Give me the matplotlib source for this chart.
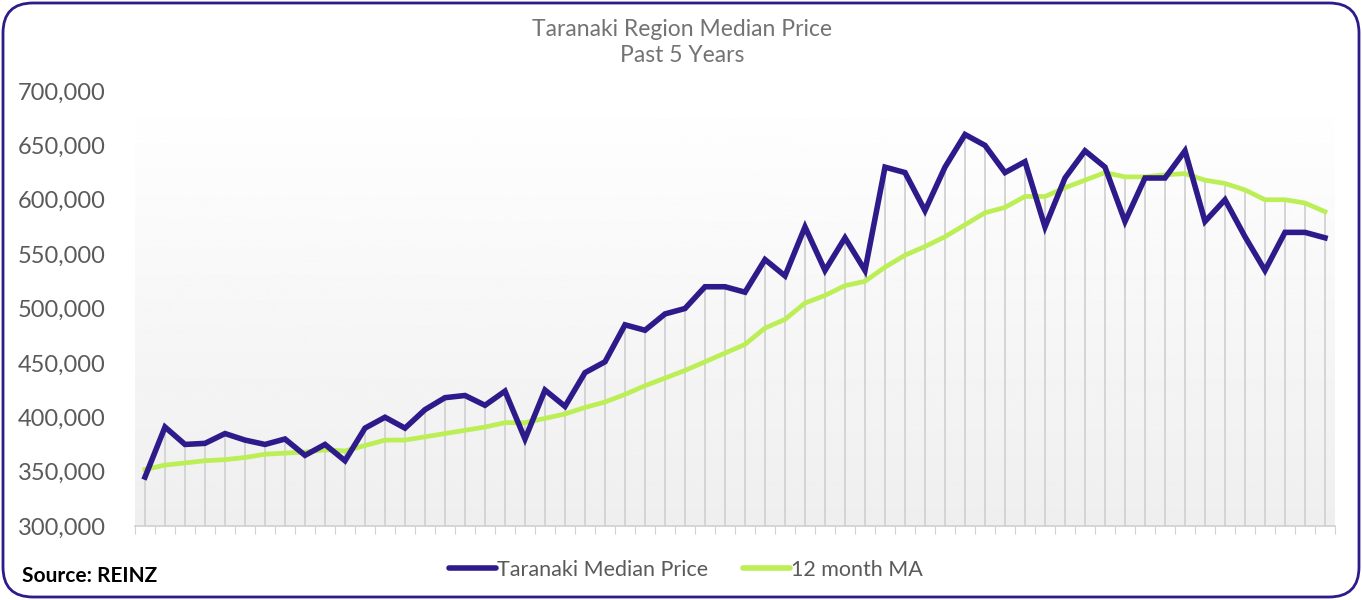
import numpy as np
import matplotlib.pyplot as plt
from matplotlib.patches import FancyBboxPatch
from matplotlib.ticker import FuncFormatter

# monthly values, past 5 years (60 months)
median_price = [345000, 391000, 375000, 376000, 385000, 379000, 375000, 380000, 365000, 375000,
                360000, 390000, 400000, 390000, 407000, 418000, 420000, 411000, 424000, 380000,
                425000, 410000, 441000, 451000, 485000, 480000, 495000, 500000, 520000, 520000,
                515000, 545000, 530000, 575000, 535000, 565000, 535000, 630000, 625000, 590000,
                630000, 660000, 650000, 625000, 635000, 575000, 620000, 645000, 630000, 580000,
                620000, 620000, 645000, 580000, 600000, 566000, 535000, 570000, 570000, 565000]
ma_12 = [352000, 356000, 358000, 360000, 361000, 363000, 366000, 367000, 368000, 370000,
         369000, 374000, 379000, 379000, 382000, 385000, 388000, 391000, 395000, 395000,
         399000, 403000, 409000, 414000, 421000, 429000, 436000, 443000, 451000, 459000,
         467000, 482000, 490000, 505000, 512000, 521000, 525000, 538000, 549000, 557000,
         566000, 577000, 588000, 593000, 603000, 603000, 611000, 618000, 625000, 621000,
         621000, 623000, 624000, 618000, 615000, 609000, 600000, 600000, 597000, 589000]

purple = '#2e1a8a'
green = '#bcee55'
grey_text = '#5a5a5a'

plt.rcParams['font.family'] = ['Lato', 'DejaVu Sans']

fig = plt.figure(figsize=(13.62, 6.0), dpi=100)
W, H = 1362, 600
ax = fig.add_axes([135 / W, 1 - 526 / H, 1200 / W, (526 - 91) / H])

x = np.arange(len(median_price))
ax.set_xlim(-0.5, len(x) - 0.5)
ax.set_ylim(300000, 700000)

# background gradient
grad = np.linspace(1.0, 0.935, 256).reshape(-1, 1)
ax.imshow(grad, extent=[0, 1, 0, 1], transform=ax.transAxes, cmap='gray',
          vmin=0, vmax=1, aspect='auto', zorder=0)

# drop lines
tops = np.maximum(median_price, ma_12)
ax.vlines(x, 300000, tops, color='#d2d2d2', lw=1.3, zorder=1)

ax.plot(x, median_price, color=purple, lw=4.0, solid_joinstyle='miter',
        label='Taranaki Median Price', zorder=3)
ax.plot(x, ma_12, color=green, lw=3.4, label='12 month MA', zorder=2)

for s in ['top', 'right', 'left']:
    ax.spines[s].set_visible(False)
ax.spines['bottom'].set_color('#d0d0d0')
ax.spines['bottom'].set_linewidth(1.2)

ax.set_xticks(np.arange(-0.5, len(x), 1))
ax.tick_params(axis='x', length=6, color='#d0d0d0', labelbottom=False)
ax.set_yticks(np.arange(300000, 700001, 50000))
ax.yaxis.set_major_formatter(FuncFormatter(lambda v, p: f'{int(v):,}'))
ax.tick_params(axis='y', length=0, pad=21, labelsize=17, labelcolor=grey_text)

fig.text(682 / W, 1 - 30 / H, 'Taranaki Region Median Price', ha='center', va='center',
         fontsize=16.5, color='#737373')
fig.text(682 / W, 1 - 55 / H, 'Past 5 Years', ha='center', va='center',
         fontsize=16.5, color='#737373')

leg = fig.legend(loc='center', bbox_to_anchor=(686 / W, 1 - 570 / H), ncol=2, frameon=False,
                 fontsize=15.5, handlelength=2.2, handletextpad=0.05, columnspacing=1.6)
for t in leg.get_texts():
    t.set_color(grey_text)
for l in leg.get_lines():
    l.set_linewidth(4)
    l.set_solid_capstyle('round')

fig.text(22 / W, 1 - 576 / H, 'Source: REINZ', ha='left', va='center',
         fontsize=15, fontweight='bold', color='black')

border = FancyBboxPatch((3 / W, 3 / H), 1 - 6 / W, 1 - 6 / H,
                        boxstyle='round,pad=0,rounding_size=0.022', transform=fig.transFigure,
                        fill=False, edgecolor=purple, lw=2, mutation_aspect=W / H)
fig.patches.append(border)

fig.savefig('out.png', dpi=100, facecolor='white')
